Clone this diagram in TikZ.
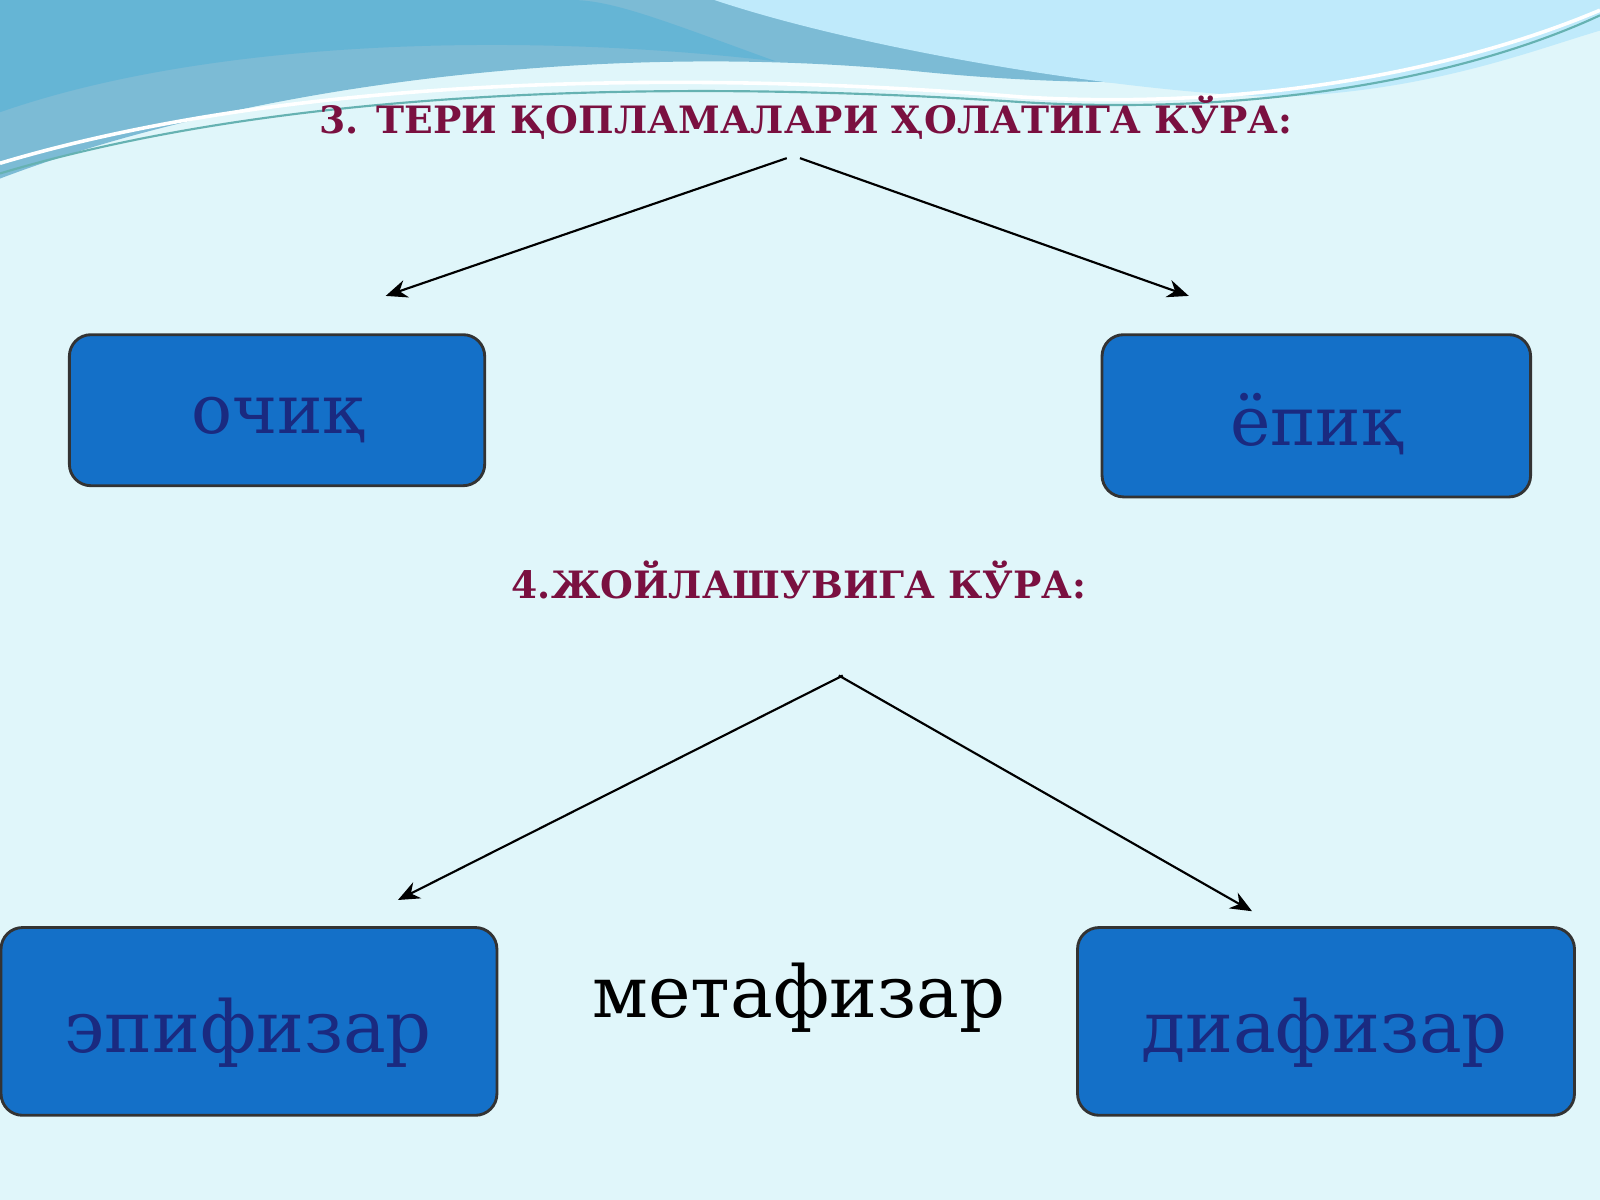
\documentclass[tikz,border=0pt]{standalone}
\usepackage{fontspec}
\setmainfont{DejaVu Serif}
\usetikzlibrary{arrows.meta}
\definecolor{bg}{HTML}{E0F6FA}
\definecolor{boxc}{HTML}{1470C8}
\definecolor{txtc}{HTML}{1A2A80}
\definecolor{titc}{HTML}{7A1040}
\tikzset{
 box/.style={draw=black!80,line width=0.8pt,fill=boxc,rounded corners=6pt},
 lbl/.style={text=txtc},
 ttl/.style={text=titc,font=\bfseries\fontsize{10.5pt}{13pt}\selectfont},
 arr/.style={-{Stealth[length=6pt,width=5pt]},line width=0.6pt}
}
\begin{document}
\begin{tikzpicture}[x=0.01cm,y=-0.01cm]
\useasboundingbox (0,0) rectangle (1568,1176);
\fill[bg] (0,0) rectangle (1568,1176);
% top waves
\fill[cyan!45!teal!60] (0,0) -- (0,175) .. controls (250,80) and (600,40) .. (900,70) .. controls (1200,100) and (1400,60) .. (1568,20) -- (1568,0) -- cycle;
\fill[cyan!25!white] (700,0) .. controls (850,50) and (1100,90) .. (1250,95) .. controls (1400,90) and (1500,50) .. (1568,30) -- (1568,0) -- cycle;
\fill[cyan!55!teal!70] (0,0) -- (0,110) .. controls (200,40) and (500,30) .. (760,60) .. controls (650,20) and (600,0) .. (560,0) -- cycle;
\draw[white,line width=1pt] (0,160) .. controls (300,70) and (700,70) .. (1000,95) .. controls (1250,110) and (1450,60) .. (1568,10);
\draw[teal!60,line width=0.6pt] (0,170) .. controls (300,80) and (700,80) .. (1000,100) .. controls (1250,115) and (1450,70) .. (1568,15);

\node[ttl] (t1) at (790,115) {3. ТЕРИ ҚОПЛАМАЛАРИ ҲОЛАТИГА КЎРА:};
\coordinate (a1) at (771,155);
\coordinate (a2) at (784,155);
\coordinate (e1) at (378,290);
\coordinate (e2) at (1165,290);
\draw[arr] (a1) -- (e1);
\draw[arr] (a2) -- (e2);

\path[box] (68,328) rectangle (475,476);
\node[lbl,font=\fontsize{19pt}{22pt}\selectfont] (b1) at (272,412) {очиқ};
\path[box] (1080,328) rectangle (1500,487);
\node[lbl,font=\fontsize{19pt}{22pt}\selectfont] (b2) at (1290,416) {ёпиқ};

\node[ttl] (t2) at (783,568) {4.ЖОЙЛАШУВИГА КЎРА:};
\coordinate (c1) at (826,662);
\coordinate (c2) at (822,662);
\coordinate (f1) at (390,882);
\coordinate (f2) at (1227,893);
\draw[arr] (c1) -- (f1);
\draw[arr] (c2) -- (f2);

\path[box] (1,909) rectangle (487,1093);
\node[lbl,font=\fontsize{20pt}{24pt}\selectfont] (b3) at (243,1012) {эпифизар};
\path[box] (1056,909) rectangle (1543,1093);
\node[lbl,font=\fontsize{20pt}{24pt}\selectfont] (b4) at (1298,1012) {диафизар};
\node[font=\fontsize{20pt}{24pt}\selectfont] (m) at (783,978) {метафизар};
\end{tikzpicture}
\end{document}
